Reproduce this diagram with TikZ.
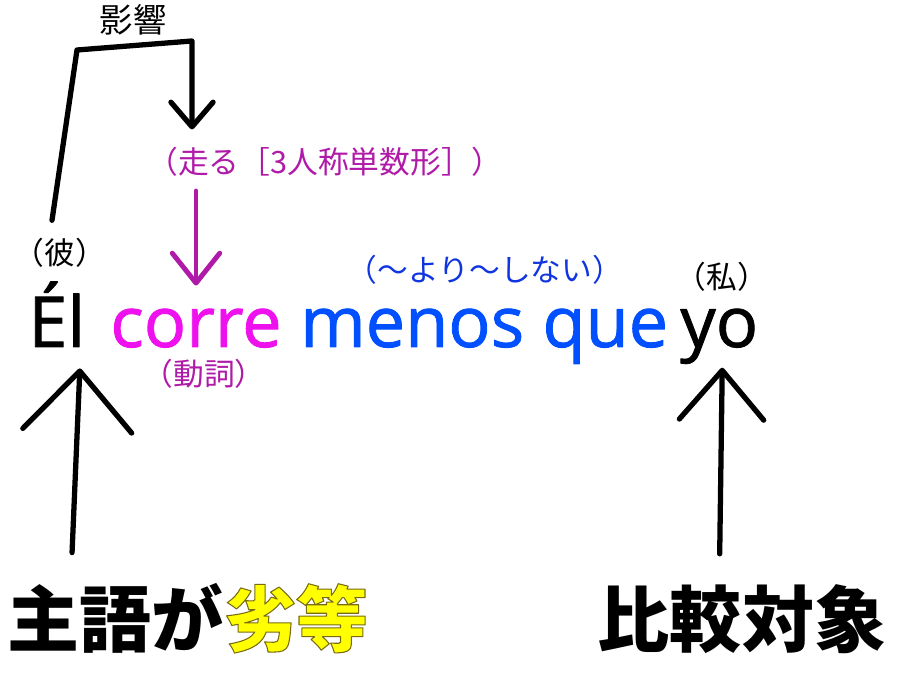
\documentclass[tikz,border=0pt]{standalone}
\usepackage{fontspec}
\setmainfont{Open Sans}[FakeBold=1.2]
\newfontfamily\jp{Noto Sans CJK JP}
\usetikzlibrary{arrows.meta,calc}

\definecolor{verb}{HTML}{EE11EE}
\definecolor{comp}{HTML}{0050FF}
\definecolor{note}{HTML}{B01AA8}
\definecolor{notecomp}{HTML}{1035E0}
\definecolor{inferior}{HTML}{FFFF00}
% yellow text with a thin dark rim
\newcommand{\rimmed}[1]{{\color{inferior}\special{pdf:literal direct 2 Tr 0.6 w 0.48 0.42 0.06 RG}#1\special{pdf:literal direct 0 Tr}}}

\begin{document}
\begin{tikzpicture}[x=0.02cm,y=-0.02cm,line cap=round,line join=round,
  word/.style={inner sep=0pt,anchor=base west,font=\fontsize{40}{48}\selectfont},
  gloss/.style={inner sep=1pt,font=\jp\fontsize{17.5}{20}\selectfont},
  big/.style={inner sep=0pt,anchor=base,font=\jp\bfseries\fontsize{41}{48}\selectfont},
  hand/.style={line width=3pt,black}]
  \useasboundingbox (0,0) rectangle (922,688);

  % sentence
  \node[word] (el) at (28,347) {Él};
  \node[word,text=verb] (corre) at (110,347) {corre};
  \node[word,text=comp] (menos) at (300,347) {menos que};
  \node[word] (yo) at (680,347) {yo};

  % glosses
  \node[gloss] (kare) at (60,253) {（彼）};
  \node[gloss,text=note,inner sep=0pt] (doushi) at (204,374) {（動詞）};
  \node[gloss,text=notecomp] (yori) at (485,270) {（～より～しない）};
  \node[gloss] (watashi) at (722,277) {（私）};
  \node[gloss,text=note] (hashiru) at (325,162) {（走る［3人称単数形］）};
  \node[gloss,font=\jp\fontsize{19}{22}\selectfont] (eikyou) at (133,20) {影響};

  % bottom labels
  \node[big] (subj) at (188,646) {主語が\rimmed{劣等}};
  \node[big] (target) at (742,646) {比較対象};

  % influence bracket
  \coordinate (turn1) at (77,50);
  \coordinate (turn2) at (192,41);
  \draw[hand,-{Straight Barb[length=14pt,width=24pt,round]},shorten >=9pt]
    ($(kare.north)+(-8,-16)$) -- (turn1) -- (turn2) -- (turn2 |- hashiru.north);

  \draw[hand,note,line width=2.8pt,-{Straight Barb[length=17pt,width=27pt,round]},
    shorten <=7pt,shorten >=13pt]
    (hashiru.south -| corre.north) -- (corre.north);

  % subject / comparison arrows
  \draw[hand,-{Straight Barb[length=34pt,width=62pt,round]},shorten <=17pt,shorten >=12pt]
    ($(el.south |- subj.north)+(14,0)$) -- ($(el.south)+(24,0)$);
  \draw[hand,-{Straight Barb[length=28pt,width=48pt,round]},shorten <=17pt,shorten >=2pt]
    (yo.south |- target.north) -- ($(yo.south)+(3,0)$);
\end{tikzpicture}
\end{document}
